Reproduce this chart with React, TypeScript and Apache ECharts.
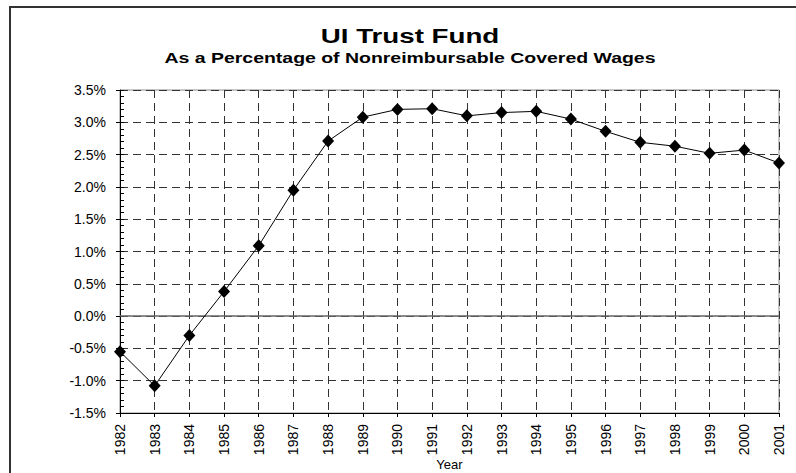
import React, { useEffect, useRef } from "react";
import * as echarts from "echarts";

const titleText = "UI Trust Fund";
const subtitleText = "As a Percentage of Nonreimbursable Covered Wages";
const xAxisName = "Year";
const years = [
  "1982", "1983", "1984", "1985", "1986", "1987", "1988", "1989", "1990", "1991",
  "1992", "1993", "1994", "1995", "1996", "1997", "1998", "1999", "2000", "2001",
];
const trustFundPct = [
  -0.55, -1.08, -0.3, 0.38, 1.09, 1.95, 2.71, 3.08, 3.2, 3.21,
  3.1, 3.15, 3.17, 3.05, 2.86, 2.69, 2.63, 2.52, 2.57, 2.37,
];
const yMin = -1.5;
const yMax = 3.5;
const yStep = 0.5;

const FONT = "Arial, 'Liberation Sans', sans-serif";

export default function App() {
  const ref = useRef<HTMLDivElement>(null);
  useEffect(() => {
    if (!ref.current) return;
    const chart = echarts.init(ref.current, null, { renderer: "svg" });
    const yCommon = {
      type: "value",
      min: yMin,
      max: yMax,
      interval: yStep,
      position: "left",
    };
    chart.setOption({
      animation: false,
      backgroundColor: "#ffffff",
      textStyle: { fontFamily: FONT },
      grid: {
        left: 120,
        right: 17,
        top: 90,
        bottom: 60,
        containLabel: false,
        outerBoundsMode: "none",
        show: true,
        borderColor: "#8a8a8a",
        borderWidth: 1,
        backgroundColor: "transparent",
      },
      graphic: [
        {
          type: "line",
          shape: { x1: 9, y1: 7, x2: 796, y2: 7 },
          style: { stroke: "#333", lineWidth: 2 },
          silent: true,
        },
        {
          type: "line",
          shape: { x1: 10, y1: 7, x2: 10, y2: 473 },
          style: { stroke: "#333", lineWidth: 2 },
          silent: true,
        },
        {
          type: "text",
          x: 410,
          y: 36,
          scaleX: 1.32,
          style: {
            text: titleText,
            fontFamily: FONT,
            fontWeight: "bold",
            fontSize: 21,
            fill: "#000",
            textAlign: "center",
            textVerticalAlign: "middle",
          },
        },
        {
          type: "text",
          x: 410,
          y: 58.5,
          scaleX: 1.39,
          style: {
            text: subtitleText,
            fontFamily: FONT,
            fontWeight: "bold",
            fontSize: 14,
            fill: "#000",
            textAlign: "center",
            textVerticalAlign: "middle",
          },
        },
      ],
      xAxis: {
        type: "category",
        data: years,
        boundaryGap: false,
        name: xAxisName,
        nameLocation: "middle",
        nameGap: 45,
        nameMoveOverlap: false,
        nameTextStyle: { fontFamily: FONT, fontSize: 13, color: "#000" },
        axisLine: { onZero: false, lineStyle: { color: "#000", width: 1 } },
        axisTick: { show: true, length: 4, lineStyle: { color: "#000" } },
        axisLabel: {
          rotate: 90,
          margin: 11,
          fontFamily: FONT,
          fontSize: 14,
          color: "#000",
          interval: 0,
        },
        splitLine: {
          show: true,
          lineStyle: { color: "#333", type: [8, 5], width: 1 },
        },
      },
      yAxis: [
        {
          ...yCommon,
          axisLine: { show: true, lineStyle: { color: "#000", width: 1 } },
          axisTick: { show: true, length: 4, lineStyle: { color: "#000" } },
          axisLabel: {
            margin: 14,
            fontFamily: FONT,
            fontSize: 14,
            color: "#000",
            formatter: (v: number) => v.toFixed(1) + "%",
          },
          splitLine: {
            show: true,
            lineStyle: { color: "#333", type: [8, 5], width: 1 },
          },
        },
        {
          ...yCommon,
          axisLine: { show: false },
          axisTick: { show: true, inside: true, length: 4, lineStyle: { color: "#000" } },
          minorTick: { show: true, splitNumber: 5, length: 4, lineStyle: { color: "#000" } },
          axisLabel: { show: false },
          splitLine: { show: false },
        },
      ],
      series: [
        {
          type: "line",
          data: trustFundPct,
          yAxisIndex: 0,
          symbol: "diamond",
          symbolSize: [12, 13],
          showSymbol: true,
          lineStyle: { color: "#000", width: 1 },
          itemStyle: { color: "#000" },
          z: 5,
          markLine: {
            silent: true,
            symbol: "none",
            label: { show: false },
            lineStyle: { color: "#666", type: "solid", width: 1.5 },
            data: [{ yAxis: 0 }],
            z: 3,
          },
        },
      ],
    });
    return () => chart.dispose();
  }, []);
  return (
    <div
      ref={ref}
      style={{ position: "fixed", left: 0, top: 0, width: 796, height: 473 }}
    />
  );
}
